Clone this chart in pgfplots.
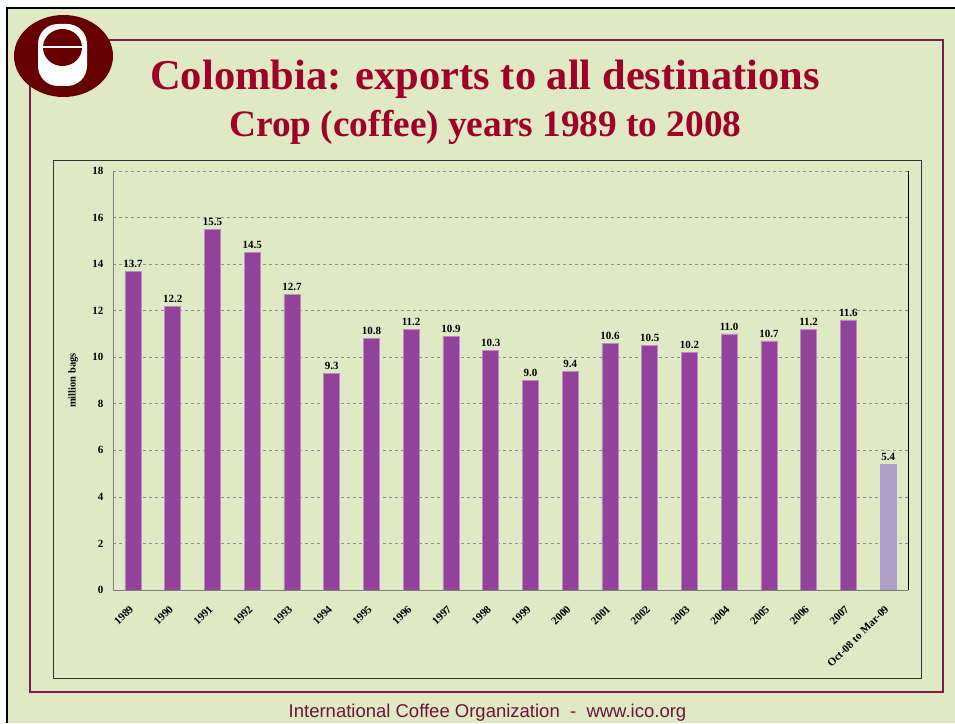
\documentclass[border=0pt]{standalone}
\usepackage{fontspec}
\setmainfont{Liberation Serif}
\newfontfamily\sansf{Liberation Sans}
\usepackage{pgfplots}
\pgfplotsset{compat=1.18}
\definecolor{bg}{RGB}{223,233,195}
\definecolor{framec}{RGB}{125,28,72}
\definecolor{titlec}{RGB}{160,0,40}
\definecolor{footc}{RGB}{110,20,60}
\definecolor{logoc}{RGB}{102,0,0}
\definecolor{barc}{RGB}{147,66,155}
\definecolor{baredge}{RGB}{185,140,195}
\definecolor{lastc}{RGB}{176,160,200}
\begin{document}
\begin{tikzpicture}
\begin{scope}[x=1pt,y=1pt]
\useasboundingbox (0,0) rectangle (955,723);
\fill[white] (0,0) rectangle (955,723);
\fill[bg] (7,0) rectangle (955,715);
\draw[black, line width=2.5pt] (7,0) -- (7,715) -- (955,715);
\draw[framec, line width=1.5pt] (30,31) rectangle (943,683);
\draw[black!80, line width=0.8pt] (53,45) rectangle (921,563);
% logo
\fill[logoc] (63.5,667) ellipse [x radius=49.5, y radius=41];
\fill[white, rounded corners=20pt] (38,637) rectangle (87,699);
\fill[logoc] (62.5,675.5) ellipse [x radius=19.5, y radius=18.5];
\draw[white, line width=2.5pt] (42,676) -- (83,676);
% titles
\node[anchor=base, inner sep=0, font=\fontsize{42.5}{42.5}\selectfont\bfseries, text=titlec] at (485,633) {Colombia: exports to all destinations};
\node[anchor=base, inner sep=0, font=\fontsize{37.3}{37.3}\selectfont\bfseries, text=titlec] at (485.5,586) {Crop (coffee) years 1989 to 2008};
\node[anchor=base, inner sep=0, font=\sansf\fontsize{18.5}{18.5}\selectfont, text=footc] at (487.5,6) {International Coffee Organization\ \ -\ \ www.ico.org};
\end{scope}
\begin{axis}[
  at={(113pt,133pt)}, anchor=south west,
  scale only axis, width=795pt, height=419pt,
  xmin=-0.5, xmax=19.5, ymin=0, ymax=18,
  ytick={0,2,...,18},
  xtick={0,...,19},
  xticklabels={1989,1990,1991,1992,1993,1994,1995,1996,1997,1998,1999,2000,2001,2002,2003,2004,2005,2006,2007,Oct-08 to Mar-09},
  /pgf/number format/assume math mode=true,
  xticklabel style={anchor=north east, xshift=-4pt, yshift=-10pt, rotate=45, font=\bfseries\fontsize{11}{11}\selectfont},
  yticklabel style={font=\bfseries\fontsize{11}{11}\selectfont, xshift=-6pt},
  major tick length=0pt,
  ymajorgrids, grid style={dashed, black!45, line width=0.6pt},
  axis line style={draw=none},
  ylabel={million bags},
  ylabel style={at={(axis description cs:-0.05,0.5)}, anchor=center, rotate=0, font=\bfseries\fontsize{10.5}{10.5}\selectfont},
  ybar, bar width=0.4, bar shift=0pt,
  nodes near coords,
  every node near coord/.append style={font=\bfseries\fontsize{11}{11}\selectfont, text=black, yshift=0pt},
  nodes near coords style={/pgf/number format/.cd, fixed, fixed zerofill, precision=1, assume math mode=true},
  clip=false,
]
\addplot[fill=barc, draw=baredge, line width=0.5pt] coordinates {
(0,13.7) (1,12.2) (2,15.5) (3,14.5) (4,12.7) (5,9.3) (6,10.8) (7,11.2) (8,10.9) (9,10.3)
(10,9.0) (11,9.4) (12,10.6) (13,10.5) (14,10.2) (15,11.0) (16,10.7) (17,11.2) (18,11.6)};
\addplot[fill=lastc, draw=lastc, line width=0.5pt] coordinates {(19,5.4)};
\draw[gray, line width=1pt] (rel axis cs:0,1) -- (rel axis cs:0,0) -- (rel axis cs:1,0);
\draw[black, line width=0.8pt] (rel axis cs:1,0) -- (rel axis cs:1,1);
\end{axis}
\end{tikzpicture}
\end{document}
